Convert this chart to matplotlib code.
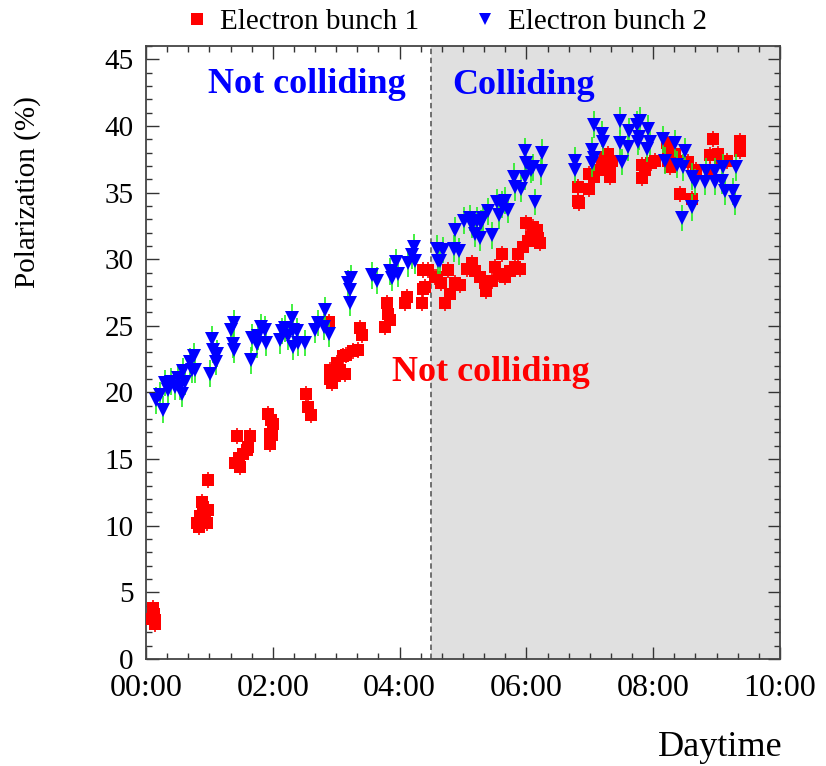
import numpy as np
import matplotlib
matplotlib.use('Agg')
import matplotlib.pyplot as plt
from matplotlib.lines import Line2D

# Parameters
FONT = 'Liberation Serif'
FIG_SIZE = (8.26, 7.66)
DPI = 100
SHADE = '#e0e0e0'
T_SWITCH = 4.5   # start of collisions (hours)

# Electron bunch 1 (red squares): time in hours, polarization in %
b1_t = [0.09, 0.105, 0.12, 0.14, 0.14,
        0.80, 0.83, 0.85, 0.88, 0.88, 0.90, 0.93, 0.96, 0.98, 0.98,
        1.40, 1.43, 1.46, 1.48, 1.53, 1.59, 1.61, 1.64,
        1.93, 1.96, 1.96, 1.97, 1.98, 2.01,
        2.53, 2.56, 2.61, 2.89, 2.90, 2.90, 2.93, 2.98, 3.01, 3.06, 3.11, 3.14, 3.16, 3.27, 3.35,
        3.38, 3.40, 3.77, 3.80, 3.82, 3.85, 4.09, 4.11, 4.35, 4.37, 4.37, 4.40,
        4.45, 4.56, 4.59, 4.66, 4.72, 4.77, 4.79, 4.87, 4.95, 5.06, 5.14, 5.19, 5.27,
        5.35, 5.37, 5.45, 5.50, 5.56, 5.61, 5.66, 5.74, 5.82, 5.87, 5.90, 5.95,
        6.00, 6.03, 6.08, 6.11, 6.16, 6.19, 6.21,
        6.82, 6.82, 6.83, 6.98, 6.98, 7.06, 7.13, 7.19, 7.24, 7.29, 7.32, 7.32, 7.35,
        7.82, 7.82, 7.87, 7.97, 8.03, 8.21, 8.24, 8.24, 8.26, 8.34, 8.37, 8.42,
        8.55, 8.61, 8.68, 8.90, 8.90, 8.95, 9.03, 9.05, 9.16, 9.37, 9.37]
b1_p = [3.0, 3.8, 3.4, 2.9, 2.6,
        10.2, 9.9, 10.7, 10.4, 11.8, 11.4, 10.4, 10.2, 11.2, 13.4,
        14.7, 16.7, 15.1, 14.4, 15.4, 15.7, 15.9, 16.7,
        18.4, 16.1, 16.9, 17.9, 16.8, 17.6,
        19.9, 18.9, 18.3, 25.3, 21.7, 21.0, 20.7, 21.2, 22.2, 21.7, 22.7, 21.4, 22.8, 23.1, 23.2,
        24.8, 24.3, 24.9, 26.7, 25.9, 25.4, 26.7, 27.2, 26.7, 29.2, 27.8, 27.9,
        29.2, 28.7, 28.7, 28.2, 26.7, 29.2, 27.4, 28.2, 28.1, 29.3, 29.7, 29.1, 28.7,
        28.2, 27.6, 28.4, 29.4, 28.9, 30.4, 28.7, 29.1, 29.4, 30.4, 29.3, 30.9,
        32.7, 31.4, 31.7, 32.4, 32.2, 31.6, 31.2,
        35.4, 34.4, 34.2, 36.4, 35.3, 36.2, 36.7, 37.2, 37.7, 37.9, 36.7, 36.2, 37.4,
        37.1, 36.1, 36.7, 37.2, 37.4, 38.7, 38.2, 37.4, 36.9, 37.9, 37.4, 34.9,
        37.3, 34.5, 36.7, 37.8, 36.7, 39.0, 37.9, 37.4, 37.4, 38.9, 38.1]
b1_err = 0.6

# Electron bunch 2 (blue triangles)
b2_t = [0.16, 0.22, 0.27, 0.30, 0.35, 0.40, 0.46, 0.51, 0.54, 0.56, 0.59, 0.62,
        0.69, 0.72, 0.75, 0.77, 1.01, 1.04, 1.06, 1.11, 1.12,
        1.34, 1.37, 1.38, 1.38, 1.66, 1.67, 1.75, 1.77, 1.82, 1.88, 1.90,
        2.11, 2.14, 2.19, 2.24, 2.30, 2.32, 2.32, 2.38, 2.40, 2.51,
        2.67, 2.72, 2.80, 2.83, 2.88, 3.19, 3.21, 3.22, 3.24,
        3.56, 3.64, 3.85, 3.88, 3.95, 3.98, 4.14, 4.19, 4.22, 4.24,
        4.59, 4.61, 4.64, 4.69, 4.85, 4.87, 4.93, 5.02, 5.11, 5.14, 5.19, 5.22,
        5.27, 5.29, 5.32, 5.40, 5.45, 5.53, 5.56, 5.61, 5.66, 5.71, 5.80, 5.82,
        5.92, 5.97, 5.98, 6.00, 6.08, 6.11, 6.14, 6.23, 6.24,
        6.77, 6.77, 7.03, 7.03, 7.06, 7.06, 7.19, 7.21, 7.47, 7.48, 7.50, 7.61, 7.62,
        7.74, 7.76, 7.78, 7.79, 7.91, 7.92, 7.95, 8.16, 8.18,
        8.34, 8.37, 8.45, 8.47, 8.50, 8.61, 8.61, 8.66, 8.82, 8.84, 8.97, 8.97,
        9.08, 9.10, 9.13, 9.26, 9.29, 9.31]
b2_p = [19.4, 19.8, 18.7, 20.7, 20.2, 20.8, 20.4, 21.1, 20.4, 19.9, 21.6, 20.8,
        22.3, 21.7, 22.7, 21.7, 21.4, 24.0, 23.2, 22.3, 22.9,
        24.7, 23.6, 25.2, 23.2, 22.4, 24.1, 23.6, 24.2, 24.9, 24.7, 23.7,
        23.9, 24.6, 24.8, 24.2, 25.6, 23.4, 24.7, 24.6, 23.7, 23.7,
        24.7, 25.2, 24.9, 26.2, 24.4, 28.2, 26.7, 27.7, 28.6,
        28.8, 28.4, 29.1, 28.6, 29.8, 28.9, 29.7, 30.3, 30.9, 29.9,
        30.8, 29.9, 29.9, 30.7, 30.8, 32.2, 30.6, 32.9, 33.1, 32.6, 31.9, 32.9,
        31.6, 32.7, 33.1, 33.6, 31.8, 34.3, 33.3, 34.1, 34.4, 33.7, 36.2, 35.4,
        35.3, 38.1, 36.2, 37.2, 36.7, 36.9, 34.3, 36.6, 38.0,
        37.4, 36.7, 38.2, 37.2, 40.1, 37.6, 39.4, 38.8, 38.7, 40.4, 37.3, 38.4, 39.6,
        40.1, 38.8, 39.2, 40.4, 38.3, 39.8, 38.8, 39.0, 37.4,
        38.7, 37.1, 33.1, 36.9, 38.1, 36.2, 33.9, 35.8, 35.8, 36.6, 36.6, 35.8,
        35.9, 36.9, 35.1, 35.1, 34.3, 36.9]
b2_err = 1.0

x_ticks = [0, 2, 4, 6, 8, 10]
x_labels = ['00:00', '02:00', '04:00', '06:00', '08:00', '10:00']

plt.rcParams['font.family'] = FONT
plt.rcParams['mathtext.fontset'] = 'stix'

fig = plt.figure(figsize=FIG_SIZE, dpi=DPI)
ax = fig.add_axes([0.1768, 0.1397, 0.7675, 0.8003])

# Colliding period
ax.axvspan(T_SWITCH, 10, color=SHADE, lw=0, zorder=0)
ax.axvline(T_SWITCH, color='#666666', ls=(0, (3, 2)), lw=1.3, zorder=1)

ax.errorbar(b1_t, b1_p, yerr=b1_err, fmt='s', color='red', ms=8.5, ecolor='red',
            elinewidth=1.2, capsize=0, mew=0, zorder=3)
ax.errorbar(b2_t, b2_p, yerr=b2_err, fmt='v', color='blue', ms=9.5, ecolor='#22ee22',
            elinewidth=1.2, capsize=0, mew=0, zorder=4)

ax.text(0.98, 43.1, 'Not colliding', color='blue', fontsize=26, fontweight='bold',
        va='center', ha='left')
ax.text(4.83, 43.0, 'Colliding', color='blue', fontsize=26, fontweight='bold',
        va='center', ha='left')
ax.text(3.88, 21.5, 'Not colliding', color='red', fontsize=26, fontweight='bold',
        va='center', ha='left')

ax.set_xlim(0, 10)
ax.set_ylim(0, 46)
ax.set_xticks(x_ticks)
ax.set_xticklabels(x_labels)
ax.set_xticks(np.arange(0, 10.01, 1/3.), minor=True)
ax.set_yticks(np.arange(0, 46, 5))
ax.set_yticks(np.arange(0, 47, 1), minor=True)
ax.tick_params(which='both', direction='in', top=True, right=True,
               color='#333333', width=1)
ax.tick_params(which='major', length=9)
ax.tick_params(which='minor', length=4.5)
ax.tick_params(axis='x', pad=11, labelsize=23)
ax.tick_params(axis='y', pad=9, labelsize=21)
for s in ax.spines.values():
    s.set_color('#444444')
    s.set_linewidth(1.3)

fig.text(28/826., 1-192/766., 'Polarization (%)', rotation=90, fontsize=21,
         ha='center', va='center')
fig.text(783/826., 10/766., 'Daytime', fontsize=26, ha='right', va='baseline')

handles = [Line2D([], [], ls='none', marker='s', color='red', ms=8.5, mew=0),
           Line2D([], [], ls='none', marker='v', color='blue', ms=8.5, mew=0)]
leg = fig.legend(handles, ['Electron bunch 1', 'Electron bunch 2'],
                 loc='center left', bbox_to_anchor=(159/826., 1-22/766.),
                 bbox_transform=fig.transFigure, ncol=2, frameon=False,
                 fontsize=21, handlelength=0.8, handletextpad=0.4, columnspacing=1.85)

fig.savefig('out.png', dpi=DPI)
